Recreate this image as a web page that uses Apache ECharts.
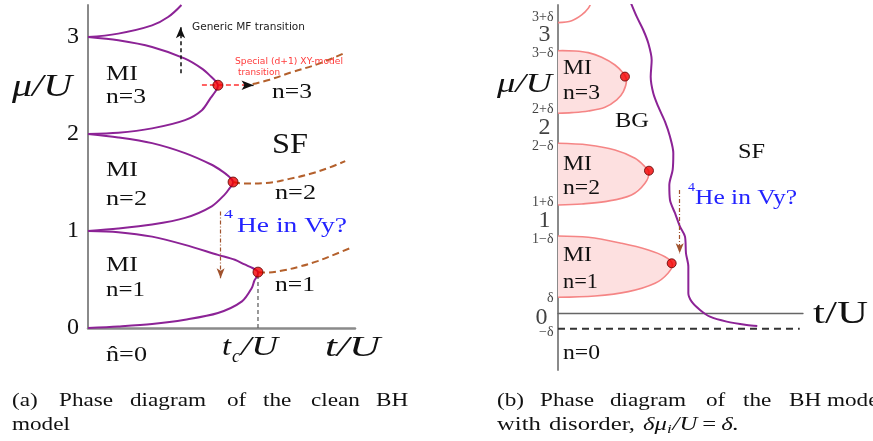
<!DOCTYPE html>
<html>
<head>
<meta charset="utf-8">
<script src="https://cdn.jsdelivr.net/npm/echarts@6/dist/echarts.min.js"></script>
<style>html,body{margin:0;padding:0;background:#fff}#c{width:873px;height:441px}</style>
</head>
<body>
<div id="c"></div>
<script>
// ---------- data (t/U, mu/U) ----------
// Panel (a): clean Bose-Hubbard lobes
const cleanLobe1 = [[0,1.0],[0.034,0.988],[0.072,0.942],[0.109,0.857],[0.146,0.754],[0.165,0.703],[0.176,0.655],[0.184,0.622],[0.1888,0.598],[0.191,0.576],[0.1908,0.552],[0.1895,0.525],[0.187,0.49],[0.184,0.412],[0.173,0.274],[0.146,0.154],[0.109,0.085],[0.072,0.041],[0.034,0.016],[0,0]];
const cleanLobe2 = [[0,2.0],[0.034,1.965],[0.072,1.906],[0.109,1.803],[0.139,1.683],[0.151,1.615],[0.158,1.565],[0.1615,1.532],[0.163,1.505],[0.1622,1.478],[0.159,1.44],[0.154,1.38],[0.139,1.255],[0.109,1.135],[0.072,1.066],[0.034,1.025],[0,1.0]];
const cleanLobe3 = [[0,3.0],[0.034,2.966],[0.072,2.897],[0.109,2.777],[0.128,2.674],[0.139,2.585],[0.1438,2.54],[0.146,2.503],[0.1452,2.47],[0.1425,2.43],[0.138,2.375],[0.128,2.246],[0.109,2.143],[0.072,2.058],[0.034,2.012],[0,2.0]];
const cleanLobe4 = [[0,3.0],[0.034,3.035],[0.072,3.120],[0.090,3.206],[0.105,3.33]];
const cleanTips = [[0.191,0.576],[0.163,1.505],[0.146,2.503]];
const specialLine1 = [[0.191,0.576],[0.201,0.572],[0.22,0.595],[0.238,0.634],[0.258,0.69],[0.276,0.754],[0.296,0.829]];
const specialLine2 = [[0.163,1.505],[0.175,1.49],[0.2,1.495],[0.225,1.535],[0.25,1.59],[0.27,1.65],[0.289,1.72]];
const specialLine3 = [[0.185,2.515],[0.204,2.56],[0.230,2.64],[0.258,2.72],[0.287,2.83]];
const tcLine = [[0.191,0],[0.191,0.54]];
const leftTicks = [0,1,2,3];

// Panel (b): disordered model
const dirtyLobe1 = [[0,0.833],[0.0371,0.819],[0.078,0.755],[0.1106,0.683],[0.131,0.610],[0.140,0.532],[0.1347,0.432],[0.1188,0.324],[0.0861,0.234],[0.0453,0.187],[0,0.173]];
const dirtyLobe2 = [[0,1.831],[0.0371,1.813],[0.0698,1.759],[0.0943,1.670],[0.1065,1.579],[0.1114,1.522],[0.1065,1.401],[0.090,1.275],[0.0575,1.203],[0.029,1.178],[0,1.167]];
const dirtyLobe3 = [[0,2.828],[0.0208,2.825],[0.0371,2.807],[0.0535,2.757],[0.0698,2.674],[0.080,2.585],[0.0839,2.513],[0.080,2.387],[0.0719,2.298],[0.0575,2.219],[0.0371,2.179],[0.0168,2.161],[0,2.154]];
const dirtyLobe4 = [[0,3.13],[0.0168,3.151],[0.029,3.213],[0.0371,3.285],[0.0404,3.342]];
const dirtyTips = [[0.1392,0.539],[0.1114,1.536],[0.082,2.549]];
const bgSfLine = [[0.0894,3.339],[0.0964,3.194],[0.1044,3.051],[0.1106,2.908],[0.1147,2.728],[0.1135,2.548],[0.1167,2.370],[0.1228,2.225],[0.1310,2.064],[0.1371,1.903],[0.1412,1.724],[0.1404,1.544],[0.1363,1.382],[0.1371,1.221],[0.1433,1.078],[0.1494,0.933],[0.1555,0.826],[0.1567,0.647],[0.1596,0.503],[0.1596,0.216],[0.1637,0.126],[0.1739,0.037],[0.1861,-0.036],[0.2066,-0.089],[0.2311,-0.125],[0.2440,-0.136]];
const minusDeltaLine = [[0,-0.165],[0.296,-0.165]];
const rightMajorTicks = [3,2,1,0];
const rightMajorLabels = ['3','2','1','0'];
const rightMinorTicks = [3.165,2.835,2.165,1.835,1.165,0.835,0.165,-0.165];
const rightMinorLabels = ['3+δ','3−δ','2+δ','2−δ','1+δ','1−δ','δ','−δ'];

// ---------- styling ----------
const PURPLE = '#8c2396', BROWN = '#b4602c', BLUE = '#2323ff';
const SERIF = 'Liberation Serif', SANS = 'DejaVu Sans';
const cv = document.createElement('canvas').getContext('2d');
function measure(text, size, fam, st) {
  cv.font = st + ' ' + size + 'px "' + fam + '"';
  return cv.measureText(text).width;
}
function T(text, x1, x2, yc, size, o) {
  o = o || {};
  const fam = o.family || SERIF, st = o.italic ? 'italic' : 'normal';
  const w = measure(text, size, fam, st);
  const sx = x2 ? (x2 - x1) / w : (o.scale || 1);
  return {type:'text', x:x1, y:yc, scaleX:sx, silent:true, z:100,
    style:{text:text, fontSize:size, fontFamily:fam, fontStyle:st, fill:o.color || '#111', align:'left', verticalAlign:'middle'}};
}
// caption words laid out in a flow with a common horizontal scale
function flow(parts, x0, yc, size, scale, gap) {
  const out = [];
  let x = x0;
  parts.forEach(function(p){
    const sz = p.size || size, st = p.italic ? 'italic' : 'normal';
    out.push(T(p.t, x, null, yc + (p.dy || 0), sz, {italic:p.italic, scale:scale}));
    x += measure(p.t, sz, SERIF, st) * scale + (p.sp === undefined ? gap : p.sp);
  });
  return out;
}
const CAP = 19, CAPS = 1.22;
const texts = [
  T('μ/U',12,72,88,32,{italic:1}),
  T('MI',106,138,74,22), T('n=3',106,146,97,22),
  T('MI',106,138,170,22), T('n=2',106,147,199,22),
  T('MI',106,138,265,22), T('n=1',106,145,290,22),
  T('SF',272,308,145,30),
  T('n=3',272,312,92,22), T('n=2',275,316,193,22), T('n=1',275,315,285,22),
  T('Generic MF transition',192,305,27,10.5,{family:SANS,color:'#222'}),
  T('Special (d+1) XY-model',235,343,62,9.5,{family:SANS,color:'#ff3b3b'}),
  T('transition',238,280,73,9.5,{family:SANS,color:'#ff3b3b'}),
  T('4',224,233,215,13,{color:BLUE}), T('He in Vy?',237,347,227,20,{color:BLUE}),
  T('n\u0302=0',106,147,355,22),
  T('t',222,231,348,28,{italic:1}), T('c',232,240,357,18,{italic:1}), T('/U',241,278,348,28,{italic:1}),
  T('t/U',325,380,348,30,{italic:1}),
  // panel b
  T('μ/U',497,552,85,28,{italic:1}),
  T('MI',563,592,68,21), T('n=3',563,600,93,21),
  T('BG',615,649,121.5,21),
  T('MI',563,592,164,21), T('n=2',563,600,188,21),
  T('MI',563,592,255,21), T('n=1',563,598,282,21),
  T('SF',738,765,153,20),
  T('4',688,695,188,13,{color:BLUE}), T('He in Vy?',695,797,198.5,20,{color:BLUE}),
  T('n=0',563,600,353,21),
  T('t/U',813,868,315,32),
  // captions
  T('(a)',12,null,401,CAP,{scale:CAPS}), T('Phase',59,null,401,CAP,{scale:CAPS}), T('diagram',130,null,401,CAP,{scale:CAPS}),
  T('of',227,null,401,CAP,{scale:CAPS}), T('the',263,null,401,CAP,{scale:CAPS}), T('clean',311,null,401,CAP,{scale:CAPS}),
  T('BH',376,null,401,CAP,{scale:CAPS}),
  T('model',12,null,425,CAP,{scale:CAPS}),
  T('(b)',497,null,401,CAP,{scale:CAPS}), T('Phase',540,null,401,CAP,{scale:CAPS}), T('diagram',610,null,401,CAP,{scale:CAPS}),
  T('of',706,null,401,CAP,{scale:CAPS}), T('the',743,null,401,CAP,{scale:CAPS}), T('BH',789,null,401,CAP,{scale:CAPS}),
  T('model',827,null,401,CAP,{scale:CAPS})
].concat(flow([
  {t:'with'}, {t:'disorder,'}, {t:'δμ', italic:1, sp:0}, {t:'i', italic:1, size:13, dy:5, sp:1}, {t:'/U', italic:1, sp:5},
  {t:'=', sp:5}, {t:'δ.', italic:1}
], 497, 425, CAP, 1.3, 8));

function lineS(data, gi, color, width, type, smooth, z) {
  return {type:'line', xAxisIndex:gi, yAxisIndex:gi, data:data, smooth:smooth, symbol:'none', showSymbol:false,
    silent:true, z:z || 3, lineStyle:{color:color, width:width, type:type || 'solid'}};
}
function arrowS(gi, from, to, color, type, width, head, size) {
  return {type:'line', xAxisIndex:gi, yAxisIndex:gi, data:[from], symbol:'none', showSymbol:false, silent:true,
    lineStyle:{width:0}, z:6,
    markLine:{silent:true, animation:false, symbol:['none', head ? 'arrow' : 'none'], symbolSize:size || [8,10],
      label:{show:false}, lineStyle:{color:color, type:type, width:width},
      emphasis:{disabled:true}, data:[[{coord:from},{coord:to}]]}};
}
function tickS(vals, labels, size, dist) {
  return {type:'scatter', xAxisIndex:1, yAxisIndex:1, clip:false, silent:true, symbolSize:1,
    itemStyle:{color:'rgba(0,0,0,0)'}, z:10,
    data: vals.map(function(v, i){
      const lab = labels[i];
      let dy = 0, dx = 0;
      if (lab.indexOf('+') >= 0) dy = -2.5;
      else if (lab.indexOf('−') >= 0) dy = 3.5;
      if (lab === '0') { dy = 4.5; dx = -3; }
      return {value:[0, v], label:{offset:[dx, dy]}};
    }),
    label:{show:true, position:'left', distance:dist, fontSize:size, fontFamily:SERIF, color:'#111',
      formatter:function(p){ return labels[p.dataIndex]; }}};
}

const dirtyLobes = [dirtyLobe1, dirtyLobe2, dirtyLobe3, dirtyLobe4];

const option = {
  animation:false,
  backgroundColor:'#fff',
  grid:[{left:88, top:5, width:267, height:323}, {left:558, top:5, width:245, height:365}],
  xAxis:[
    {gridIndex:0, type:'value', min:0, max:0.3, axisLine:{show:true, onZero:false, lineStyle:{color:'#8a8a8a', width:2.5}},
      axisTick:{show:false}, axisLabel:{show:false}, splitLine:{show:false}},
    {gridIndex:1, type:'value', min:0, max:0.3, axisLine:{show:true, onZero:true, lineStyle:{color:'#666', width:1.3}},
      axisTick:{show:false}, axisLabel:{show:false}, splitLine:{show:false}}
  ],
  yAxis:[
    {gridIndex:0, type:'value', min:0, max:3.33, interval:1, axisLine:{show:true, onZero:false, lineStyle:{color:'#8a8a8a', width:2}},
      axisTick:{show:false}, splitLine:{show:false},
      axisLabel:{margin:9, fontSize:24, fontFamily:SERIF, color:'#111',
        formatter:function(v){ return leftTicks.indexOf(v) >= 0 ? String(v) : ''; }}},
    {gridIndex:1, type:'value', min:-0.61, max:3.32, axisLine:{show:true, onZero:false, lineStyle:{color:'#8a8a8a', width:2}},
      axisTick:{show:false}, axisLabel:{show:false}, splitLine:{show:false}}
  ],
  graphic: texts,
  series:[
    lineS(cleanLobe1,0,PURPLE,2,'solid',0.3),
    lineS(cleanLobe2,0,PURPLE,2,'solid',0.3),
    lineS(cleanLobe3,0,PURPLE,2,'solid',0.3),
    lineS(cleanLobe4,0,PURPLE,2,'solid',0.4),
    lineS(specialLine1,0,BROWN,2,[7,4],0.4),
    lineS(specialLine2,0,BROWN,2,[7,4],0.4),
    lineS(specialLine3,0,BROWN,2,[7,4],0.4),
    lineS(tcLine,0,'#555',1.2,[4,3],false),
    arrowS(0,[0.104,2.627],[0.104,3.10],'#111',[4,3],1.5,true,[7,11]),
    arrowS(0,[0.128,2.503],[0.178,2.503],'#ff3030',[5,3],1.5,false),
    arrowS(0,[0.175,2.503],[0.186,2.503],'#111','solid',1.2,true,[7,12]),
    arrowS(0,[0.149,1.20],[0.149,0.514],'#a0522d',[4,2,1,2],1.2,true,[6,10]),
    {type:'scatter', xAxisIndex:0, yAxisIndex:0, data:cleanTips, symbolSize:10, silent:true, z:8,
      itemStyle:{color:'#f20000', borderColor:'#5a0000', borderWidth:1}},
    // panel b
    {type:'custom', xAxisIndex:1, yAxisIndex:1, clip:true, silent:true, z:2,
      data: dirtyLobes.map(function(){ return [0,0]; }),
      renderItem:function(params, api){
        const i = params.dataIndex;
        const pts = dirtyLobes[i].map(function(p){ return api.coord(p); });
        const children = [];
        if (i < 3) children.push({type:'polygon', shape:{points:pts}, style:{fill:'#fde0e0', stroke:'none'}});
        children.push({type:'polyline', shape:{points:pts, smooth:0.35}, style:{stroke:'#f58585', lineWidth:1.6, fill:'none'}});
        return {type:'group', children:children};
      }},
    lineS(bgSfLine,1,PURPLE,2,'solid',0.3,4),
    lineS(minusDeltaLine,1,'#333',2,[7,5],false),
    arrowS(1,[0.149,1.329],[0.149,0.647],'#a0522d',[4,2,1,2],1.2,true,[6,10]),
    {type:'scatter', xAxisIndex:1, yAxisIndex:1, data:dirtyTips, symbolSize:9, silent:true, z:8,
      itemStyle:{color:'#f20000', borderColor:'#5a0000', borderWidth:1}},
    tickS(rightMajorTicks, rightMajorLabels, 24, 7),
    tickS(rightMinorTicks, rightMinorLabels, 14, 4)
  ]
};
const chart = echarts.init(document.getElementById('c'), null, {renderer:'canvas'});
chart.setOption(option);
</script>
</body>
</html>
